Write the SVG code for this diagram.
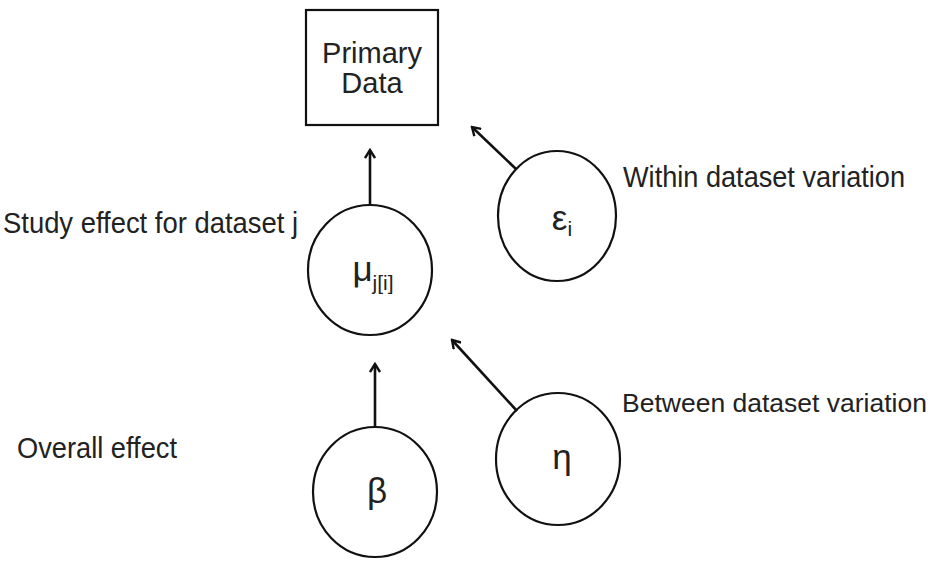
<svg xmlns="http://www.w3.org/2000/svg" width="935" height="573" viewBox="0 0 935 573">
<style>
.shape{fill:#fff;stroke:#111;stroke-width:2.2}
.lbl{font-family:"Liberation Sans",Arial,sans-serif;font-size:29px;fill:#222}
.gr{font-family:"Liberation Sans",Arial,sans-serif;font-size:35px;fill:#222;text-anchor:middle}
.sub{font-size:21px}
.conn{stroke:#111;stroke-width:2.6;fill:none;marker-end:url(#ah)}
</style>
<defs>
<marker id="ah" viewBox="0 0 12 12" refX="10" refY="6" markerWidth="12" markerHeight="12" markerUnits="userSpaceOnUse" orient="auto">
<path d="M2,1 L10,6 L2,11" fill="none" stroke="#111" stroke-width="2.4"/>
</marker>
</defs>
<rect width="935" height="573" fill="#fff"/>
<g id="primary-data">
<rect class="shape" x="306" y="10" width="132" height="115"/>
<text class="lbl" x="372" y="63" text-anchor="middle">Primary</text>
<text class="lbl" x="372" y="93" text-anchor="middle">Data</text>
</g>
<g id="mu">
<ellipse class="shape" cx="370" cy="270" rx="62" ry="65"/>
<text class="gr" x="373" y="281">μ<tspan class="sub" dy="9">j[i]</tspan></text>
</g>
<g id="epsilon">
<ellipse class="shape" cx="557" cy="216" rx="59" ry="65"/>
<text class="gr" x="562" y="230">ε<tspan class="sub" dy="6">i</tspan></text>
</g>
<g id="beta">
<ellipse class="shape" cx="375" cy="492" rx="62" ry="65"/>
<text class="gr" x="377" y="503">β</text>
</g>
<g id="eta">
<ellipse class="shape" cx="558" cy="459" rx="62" ry="66"/>
<text class="gr" x="562" y="469">η</text>
</g>
<g id="labels">
<text class="lbl" x="3" y="233" textLength="295" lengthAdjust="spacingAndGlyphs">Study effect for dataset j</text>
<text class="lbl" x="623" y="187" textLength="282" lengthAdjust="spacingAndGlyphs">Within dataset variation</text>
<text class="lbl" x="622" y="412" style="font-size:26.5px">Between dataset variation</text>
<text class="lbl" x="17" y="458" textLength="160" lengthAdjust="spacingAndGlyphs">Overall effect</text>
</g>
<g id="connectors">
<line class="conn" x1="370" y1="205" x2="370" y2="150"/>
<line class="conn" x1="516" y1="169" x2="472" y2="127"/>
<line class="conn" x1="375" y1="427" x2="375" y2="364"/>
<line class="conn" x1="517" y1="411" x2="452" y2="340"/>
</g>
</svg>
